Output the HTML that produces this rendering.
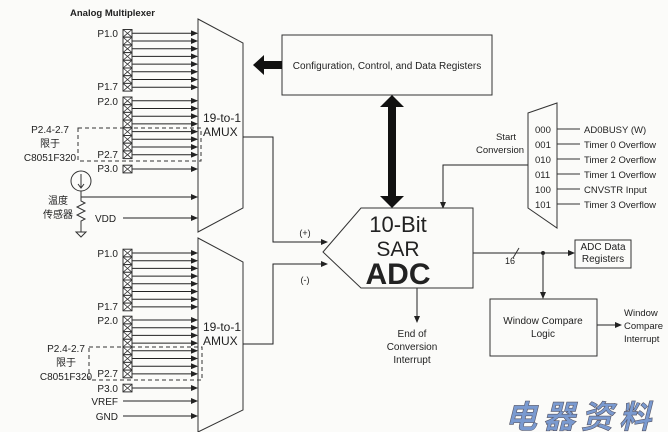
<!DOCTYPE html>
<html><head><meta charset="utf-8"><style>
body{margin:0;background:#fbfbf9}
svg{display:block}
text{font-family:"Liberation Sans","Noto Sans CJK SC",sans-serif;fill:#222}
</style></head><body>
<svg width="668" height="432" viewBox="0 0 668 432" xmlns="http://www.w3.org/2000/svg">
<defs>
<marker id="a" markerWidth="7" markerHeight="6" refX="6" refY="3" orient="auto" markerUnits="userSpaceOnUse"><path d="M0,0 L7,3 L0,6 z" fill="#222"/></marker>
<g id="px"><rect x="0" y="0" width="9" height="7.7" fill="#fff" stroke="#333" stroke-width="1"/><path d="M0,0 L9,7.7 M9,0 L0,7.7" stroke="#333" stroke-width="0.8"/></g>
</defs>
<g stroke="#333" stroke-width="1" fill="none">
<polygon points="198,19 243,43 243,208 198,232" fill="#fbfbf9"/>
<polygon points="198,238 243,262 243,410 198,432" fill="#fbfbf9"/>
<rect x="78" y="128" width="123" height="33" stroke-dasharray="4,3"/>
<rect x="89" y="347" width="113" height="33" stroke-dasharray="4,3"/>
</g>
<g stroke="#222" stroke-width="1" marker-end="url(#a)">
<line x1="132" y1="33.3" x2="197" y2="33.3"/><line x1="132" y1="41" x2="197" y2="41"/><line x1="132" y1="48.7" x2="197" y2="48.7"/><line x1="132" y1="56.4" x2="197" y2="56.4"/><line x1="132" y1="64.1" x2="197" y2="64.1"/><line x1="132" y1="71.8" x2="197" y2="71.8"/><line x1="132" y1="79.5" x2="197" y2="79.5"/><line x1="132" y1="87.2" x2="197" y2="87.2"/>
<line x1="132" y1="100.8" x2="197" y2="100.8"/><line x1="132" y1="108.5" x2="197" y2="108.5"/><line x1="132" y1="116.2" x2="197" y2="116.2"/><line x1="132" y1="123.9" x2="197" y2="123.9"/><line x1="132" y1="131.6" x2="197" y2="131.6"/><line x1="132" y1="139.3" x2="197" y2="139.3"/><line x1="132" y1="147" x2="197" y2="147"/><line x1="132" y1="154.7" x2="197" y2="154.7"/>
<line x1="132" y1="169" x2="197" y2="169"/><line x1="81" y1="197" x2="197" y2="197"/><line x1="123" y1="218" x2="197" y2="218"/>
<line x1="132" y1="253" x2="197" y2="253"/><line x1="132" y1="260.7" x2="197" y2="260.7"/><line x1="132" y1="268.4" x2="197" y2="268.4"/><line x1="132" y1="276.1" x2="197" y2="276.1"/><line x1="132" y1="283.8" x2="197" y2="283.8"/><line x1="132" y1="291.5" x2="197" y2="291.5"/><line x1="132" y1="299.2" x2="197" y2="299.2"/><line x1="132" y1="306.9" x2="197" y2="306.9"/>
<line x1="132" y1="320" x2="197" y2="320"/><line x1="132" y1="327.7" x2="197" y2="327.7"/><line x1="132" y1="335.4" x2="197" y2="335.4"/><line x1="132" y1="343.1" x2="197" y2="343.1"/><line x1="132" y1="350.8" x2="197" y2="350.8"/><line x1="132" y1="358.5" x2="197" y2="358.5"/><line x1="132" y1="366.2" x2="197" y2="366.2"/><line x1="132" y1="373.9" x2="197" y2="373.9"/>
<line x1="132" y1="388" x2="197" y2="388"/><line x1="123" y1="401" x2="197" y2="401"/><line x1="123" y1="416" x2="197" y2="416"/>
<polyline points="243,137 273,137 273,242 327,242" fill="none"/>
<polyline points="243,344 273,344 273,264 327,264" fill="none"/>
<polyline points="528,165 443,165 443,208" fill="none"/>
<line x1="473" y1="253" x2="574" y2="253"/>
<line x1="543" y1="253" x2="543" y2="298"/>
<line x1="417" y1="288" x2="417" y2="322"/>
<line x1="597" y1="325" x2="621" y2="325"/>
</g>
<g>
<use href="#px" x="123" y="29.5"/><use href="#px" x="123" y="37.2"/><use href="#px" x="123" y="44.9"/><use href="#px" x="123" y="52.6"/><use href="#px" x="123" y="60.3"/><use href="#px" x="123" y="68"/><use href="#px" x="123" y="75.7"/><use href="#px" x="123" y="83.4"/>
<use href="#px" x="123" y="97"/><use href="#px" x="123" y="104.7"/><use href="#px" x="123" y="112.4"/><use href="#px" x="123" y="120.1"/><use href="#px" x="123" y="127.8"/><use href="#px" x="123" y="135.5"/><use href="#px" x="123" y="143.2"/><use href="#px" x="123" y="150.9"/>
<use href="#px" x="123" y="165.2"/>
<use href="#px" x="123" y="249.2"/><use href="#px" x="123" y="256.9"/><use href="#px" x="123" y="264.6"/><use href="#px" x="123" y="272.3"/><use href="#px" x="123" y="280"/><use href="#px" x="123" y="287.7"/><use href="#px" x="123" y="295.4"/><use href="#px" x="123" y="303.1"/>
<use href="#px" x="123" y="316.2"/><use href="#px" x="123" y="323.9"/><use href="#px" x="123" y="331.6"/><use href="#px" x="123" y="339.3"/><use href="#px" x="123" y="347"/><use href="#px" x="123" y="354.7"/><use href="#px" x="123" y="362.4"/><use href="#px" x="123" y="370.1"/>
<use href="#px" x="123" y="384.2"/>
</g>
<g stroke="#333" fill="none" stroke-width="1">
<circle cx="81" cy="181" r="10"/>
<path d="M81,174 V187 M78,184 L81,188 L84,184"/>
<path d="M81,191 V201 L85,203 L77,207 L85,211 L77,215 L85,219 L81,221 V232 M76,232 H86 L81,237 Z"/>
</g>
<rect x="282" y="35" width="210" height="60" fill="#fbfbf9" stroke="#333"/>
<path d="M282,61 H264 V55 L253,65 L264,75 V69 H282 Z" fill="#111"/>
<path d="M388,107 H380 L392,95 L404,107 H396 V196 H404 L392,208 L380,196 H388 Z" fill="#111"/>
<polygon points="323,252 361,208 473,208 473,288 361,288" fill="#fbfbf9" stroke="#333"/>
<polygon points="528,113 557,103 557,228 528,208" fill="#fbfbf9" stroke="#333"/>
<g stroke="#333"><line x1="557" y1="129" x2="580" y2="129"/><line x1="557" y1="144" x2="580" y2="144"/><line x1="557" y1="159" x2="580" y2="159"/><line x1="557" y1="174" x2="580" y2="174"/><line x1="557" y1="189" x2="580" y2="189"/><line x1="557" y1="204" x2="580" y2="204"/>
<line x1="513" y1="258" x2="519" y2="248"/></g>
<rect x="575" y="240" width="56" height="28" fill="#fbfbf9" stroke="#333"/>
<rect x="490" y="299" width="107" height="57" fill="#fbfbf9" stroke="#333"/>
<circle cx="543" cy="253" r="2" fill="#222"/>
<g font-size="10">
<text x="70" y="16" font-weight="bold" font-size="9.5">Analog Multiplexer</text>
<g text-anchor="end">
<text x="118" y="37">P1.0</text><text x="118" y="90">P1.7</text><text x="118" y="105">P2.0</text><text x="118" y="158">P2.7</text><text x="118" y="172">P3.0</text>
<text x="118" y="257">P1.0</text><text x="118" y="310">P1.7</text><text x="118" y="324">P2.0</text><text x="118" y="377">P2.7</text><text x="118" y="392">P3.0</text><text x="118" y="405">VREF</text><text x="118" y="420">GND</text>
</g>
<text x="95" y="222">VDD</text>
<g text-anchor="middle">
<text x="50" y="133">P2.4-2.7</text><text x="50" y="147">限于</text><text x="50" y="161">C8051F320</text>
<text x="66" y="352">P2.4-2.7</text><text x="66" y="366">限于</text><text x="66" y="380">C8051F320</text>
<text x="58" y="204">温度</text><text x="58" y="218">传感器</text>
<text x="387" y="69" font-size="10">Configuration, Control, and Data Registers</text>
<text x="506" y="140" font-size="9.5">Start</text><text x="500" y="153" font-size="9.5">Conversion</text>
<text x="603" y="250">ADC Data</text><text x="603" y="262">Registers</text>
<text x="543" y="324">Window Compare</text><text x="543" y="337">Logic</text>
<text x="412" y="337">End of</text><text x="412" y="350">Conversion</text><text x="412" y="363">Interrupt</text>
<text x="305" y="236" font-size="9">(+)</text><text x="305" y="283" font-size="9">(-)</text>
<text x="510" y="264" font-size="9">16</text>
</g>
<g font-size="9.5"><text x="624" y="316">Window</text><text x="624" y="329">Compare</text><text x="624" y="342">Interrupt</text></g>
<text x="203" y="122" font-size="12">19-to-1</text><text x="203" y="136" font-size="12">AMUX</text>
<text x="203" y="331" font-size="12">19-to-1</text><text x="203" y="345" font-size="12">AMUX</text>
<g font-size="9.5"><text x="535" y="133">000</text><text x="535" y="148">001</text><text x="535" y="163">010</text><text x="535" y="178">011</text><text x="535" y="193">100</text><text x="535" y="208">101</text>
<text x="584" y="133">AD0BUSY (W)</text><text x="584" y="148">Timer 0 Overflow</text><text x="584" y="163">Timer 2 Overflow</text><text x="584" y="178">Timer 1 Overflow</text><text x="584" y="193">CNVSTR Input</text><text x="584" y="208">Timer 3 Overflow</text></g>
<g text-anchor="middle">
<text x="398" y="232" font-size="22">10-Bit</text>
<text x="398" y="256" font-size="21">SAR</text>
<text x="398" y="284" font-size="30" font-weight="bold">ADC</text>
</g>
</g>
<text x="505" y="428" font-size="32" font-style="italic" font-weight="bold" style="fill:#7a9ad0;stroke:#556;stroke-width:0.6" letter-spacing="6">电器资料</text>
</svg>
</body></html>
